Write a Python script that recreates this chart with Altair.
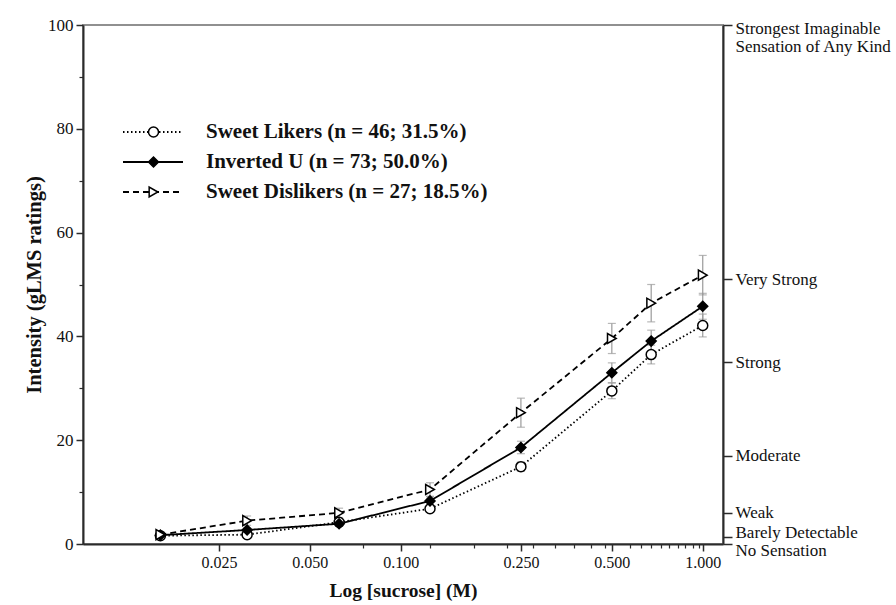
import altair as alt
import pandas as pd

# ---- data ----
conc = [0.016, 0.031, 0.0625, 0.125, 0.25, 0.5, 0.675, 1.0]
groups = ["Sweet Likers (n = 46; 31.5%)",
          "Inverted U (n = 73; 50.0%)",
          "Sweet Dislikers (n = 27; 18.5%)"]
short_names = ["Sweet Likers", "Inverted U", "Sweet Dislikers"]
likers = [1.6, 1.8, 4.2, 6.8, 14.9, 29.5, 36.5, 42.1]
likers_se = [0.3, 0.3, 0.5, 0.7, 0.9, 1.5, 1.8, 2.2]
invu = [1.7, 2.7, 3.9, 8.3, 18.6, 33.0, 39.1, 45.8]
invu_se = [0.3, 0.4, 0.5, 0.8, 1.2, 1.9, 2.1, 2.5]
dislikers = [1.8, 4.5, 6.0, 10.5, 25.3, 39.6, 46.4, 51.8]
dislikers_se = [0.5, 0.9, 0.9, 1.3, 2.8, 2.9, 3.6, 3.8]

x_major = [0.025, 0.05, 0.1, 0.25, 0.5, 1.0]
x_minor = [0.075, 0.125, 0.175, 0.225, 0.275, 0.325, 0.375, 0.425, 0.475,
           0.575, 0.625, 0.675, 0.725, 0.775, 0.825, 0.875, 0.925, 0.975]
y_major = [0, 20, 40, 60, 80, 100]
y_minor = [10, 30, 50, 70, 90]
glms_values = [0, 1.4, 6, 17, 35, 51, 100]
glms_labels = [["No Sensation"], ["Barely Detectable"], ["Weak"], ["Moderate"],
               ["Strong"], ["Very Strong"],
               ["Strongest Imaginable", "Sensation of Any Kind"]]

rows = []
for g, sn, vals, ses in zip(groups, short_names, [likers, invu, dislikers],
                            [likers_se, invu_se, dislikers_se]):
    for c, v, s in zip(conc, vals, ses):
        rows.append({"conc": c, "value": v, "lo": v - s, "hi": v + s,
                     "grp": g, "grp_p": sn})
df = pd.DataFrame(rows)

# label expression for gLMS axis
expr = "''"
for v, lab in zip(glms_values, glms_labels):
    txt = "[" + ",".join("'" + t + "'" for t in lab) + "]" if len(lab) > 1 else "'" + lab[0] + "'"
    expr = f"datum.value == {v} ? {txt} : ({expr})"

FONT = "Liberation Serif"
DARK = "#2b2b2b"
ERR = "#9a9a9a"

xs = alt.Scale(type="log", domain=[0.00887, 1.167], nice=False)
ys = alt.Scale(domain=[0, 100], nice=False, zero=False)

base = alt.Chart(df)

err_rule = base.mark_rule(color=ERR, strokeWidth=1.2).encode(
    x=alt.X("conc:Q", scale=xs, axis=None),
    y=alt.Y("lo:Q", scale=ys, axis=alt.Axis(
        orient="right", values=glms_values, labelExpr=expr, title="",
        domainColor=DARK, domainWidth=2, tickColor=DARK, tickWidth=1.5,
        tickSize=9, labelPadding=3, labelFont=FONT, labelFontSize=17,
        labelColor="#111", labelLineHeight=18.5, labelAlign="left",
        labelBaseline={"condition": {"test": "datum.value == 100", "value": "top"},
                       "value": "middle"},
        labelOffset={"condition": [
            {"test": "datum.value == 100", "value": -5},
            {"test": "datum.value == 0", "value": 6},
            {"test": "datum.value == 1.4", "value": -4}], "value": 0},
        labelOverlap=False, grid=False)),
    y2="hi:Q",
)
cap_lo = base.mark_tick(orient="horizontal", size=8, thickness=1.2, color=ERR).encode(
    x=alt.X("conc:Q", scale=xs, axis=None),
    y=alt.Y("lo:Q", scale=ys, axis=None),
)
cap_hi = base.mark_tick(orient="horizontal", size=8, thickness=1.2, color=ERR).encode(
    x=alt.X("conc:Q", scale=xs, axis=None),
    y=alt.Y("hi:Q", scale=ys, axis=None),
)

legend_common = dict(
    orient="none", title=None, padding=0, clipHeight=24, rowPadding=6,
    labelFont=FONT, labelFontSize=21, labelFontWeight="bold", legendY=95,
    labelLimit=600,
)
marker_legend = alt.Legend(symbolSize=100, symbolStrokeWidth=1.5,
                           labelOffset=22, legendX=60, labelExpr="''",
                           **legend_common)

lines = base.mark_line(color="black", strokeWidth=1.8).encode(
    x=alt.X("conc:Q", scale=xs, axis=alt.Axis(
        orient="bottom", values=x_major, format=".3f", title="Log [sucrose] (M)",
        domainColor=DARK, domainWidth=2, tickColor=DARK, tickWidth=1.5, tickSize=7,
        labelPadding=3, labelFont=FONT, labelFontSize=16, labelColor="#111",
        titleFont=FONT, titleFontSize=19.5, titleFontWeight="bold", titleColor="#111",
        titlePadding=11, labelFlush=False, grid=False)),
    y=alt.Y("value:Q", scale=ys, axis=alt.Axis(
        orient="left", values=y_major, title="Intensity (gLMS ratings)",
        domainColor=DARK, domainWidth=2, tickColor=DARK, tickWidth=1.5, tickSize=7,
        labelPadding=3, labelFont=FONT, labelFontSize=17, labelColor="#111",
        titleFont=FONT, titleFontSize=20.5, titleFontWeight="bold", titleColor="#111",
        titlePadding=3, grid=False)),
    strokeDash=alt.StrokeDash("grp:N", scale=alt.Scale(
        domain=groups, range=[[1.5, 2.5], [1, 0], [6, 4]]),
        legend=alt.Legend(symbolType="stroke", symbolSize=3600,
                          symbolStrokeColor="black", symbolStrokeWidth=1.8,
                          labelOffset=22, legendX=39, labelColor="#111",
                          **legend_common)),
)

pts = base.mark_point(filled=False, strokeWidth=1.5, size=100,
                      opacity=1).encode(
    x=alt.X("conc:Q", scale=xs, axis=alt.Axis(
        orient="bottom", values=x_minor, labels=False, domain=False, title="",
        tickColor=DARK, tickWidth=1.2, tickSize=4, grid=False)),
    y=alt.Y("value:Q", scale=ys, axis=alt.Axis(
        orient="left", values=y_minor, labels=False, domain=False, title="",
        tickColor=DARK, tickWidth=1.2, tickSize=4, grid=False)),
    color=alt.Color("grp_p:N", scale=alt.Scale(
        domain=short_names, range=["black", "black", "black"]),
        legend=marker_legend),
    shape=alt.Shape("grp_p:N", scale=alt.Scale(
        domain=short_names, range=["circle", "diamond", "triangle-right"]),
        legend=marker_legend),
    fill=alt.Fill("grp_p:N", scale=alt.Scale(
        domain=short_names, range=["white", "black", "white"]),
        legend=marker_legend),
)

chart = alt.layer(err_rule, cap_lo, cap_hi, lines, pts).resolve_axis(
    x="independent", y="independent"
).properties(
    width=640, height=519,
    autosize=alt.AutoSizeParams(type="none"),
    padding={"left": 83, "top": 25, "right": 173, "bottom": 61},
    background="white",
).configure_view(stroke="#909090", strokeWidth=2)

chart.save("out.html", embed_options={"renderer": "svg", "actions": False})
